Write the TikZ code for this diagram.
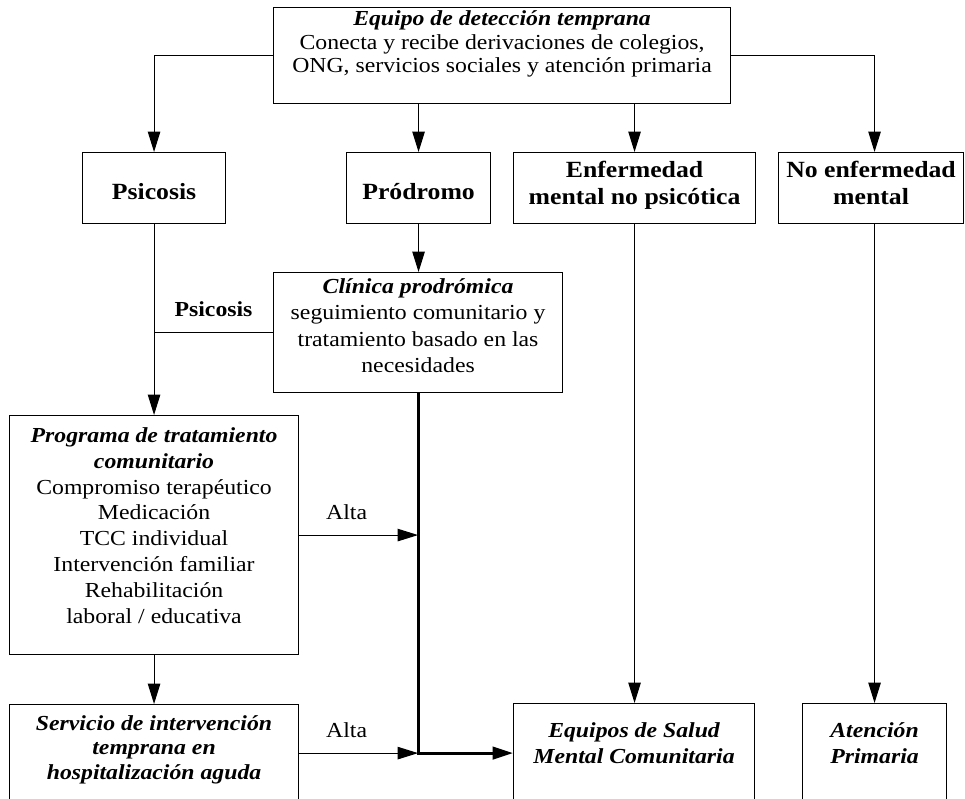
\documentclass[tikz,border=0pt]{standalone}
\usepackage{fontspec}
\setmainfont{Liberation Serif}[FakeStretch=1.11]
\usepackage{tikz}
\usetikzlibrary{arrows.meta}
\tikzstyle{box} = [rectangle, draw=black, line width=1.1pt, inner sep=0pt, anchor=north west]
\tikzstyle{arrow} = [line width=1.1pt, -{Triangle[length=20.5pt, width=12.5pt]}]
\tikzstyle{mainline} = [line width=3pt]
\tikzstyle{edgelabel} = [inner sep=0pt, above=15pt]
\newcommand{\bigbold}{\fontsize{23.2}{27.8}\selectfont\bfseries}

\begin{document}
\begin{tikzpicture}[x=1pt, y=-1pt, font=\fontsize{21.4}{26}\selectfont]
\useasboundingbox (0,0) rectangle (965,798);
\clip (0,0) rectangle (965,798);

%Fila 1==============================================
\node (top) [box] at (273,7) {
	\begin{minipage}[t][96pt][t]{457pt}
	\centering\fontsize{21.4}{23.5}\selectfont
		\rule{0pt}{18pt}\textbf{\textit{Equipo de detección temprana}}\\
		Conecta y recibe derivaciones de colegios,\\
		ONG, servicios sociales y atención primaria
	\end{minipage}
};

%Fila 2==============================================
\node (psic) [box] at (82,152) {
	\begin{minipage}[t][71pt][t]{143pt}
	\centering\bigbold
		\rule{0pt}{47pt}Psicosis
	\end{minipage}
};
\node (prod) [box] at (346,152) {
	\begin{minipage}[t][71pt][t]{144pt}
	\centering\bigbold
		\rule{0pt}{47pt}Pródromo
	\end{minipage}
};
\node (enf) [box] at (513,152) {
	\begin{minipage}[t][71pt][t]{242pt}
	\centering\bigbold
		\rule{0pt}{24.5pt}Enfermedad\\
		mental no psicótica
	\end{minipage}
};
\node (noenf) [box] at (778,152) {
	\begin{minipage}[t][71pt][t]{185pt}
	\centering\bigbold
		\rule{0pt}{24.5pt}No enfermedad\\
		mental
	\end{minipage}
};

%Clinica============================================
\node (clin) [box] at (273,272) {
	\begin{minipage}[t][120pt][t]{289pt}
	\centering\fontsize{21.4}{26.4}\selectfont
		\rule{0pt}{20.7pt}\textbf{\textit{Clínica prodrómica}}\\
		seguimiento comunitario y\\
		tratamiento basado en las\\
		necesidades
	\end{minipage}
};

%Programa===========================================
\node (prog) [box] at (9,415) {
	\begin{minipage}[t][239pt][t]{289pt}
	\centering\fontsize{21.4}{25.9}\selectfont
		\rule{0pt}{26.7pt}\textbf{\textit{Programa de tratamiento}}\\
		\textbf{\textit{comunitario}}\\
		Compromiso terapéutico\\
		Medicación\\
		TCC individual\\
		Intervención familiar\\
		Rehabilitación\\
		laboral / educativa
	\end{minipage}
};

%Fila inferior======================================
\node (serv) [box] at (9,704) {
	\begin{minipage}[t][130pt][t]{289pt}
	\centering\fontsize{21.4}{24.3}\selectfont\bfseries\itshape
		\rule{0pt}{26pt}Servicio de intervención\\
		temprana en\\
		hospitalización aguda
	\end{minipage}
};
\node (equipos) [box] at (513,703) {
	\begin{minipage}[t][130pt][t]{241pt}
	\centering\fontsize{21.4}{25.7}\selectfont\bfseries\itshape
		\rule{0pt}{34pt}Equipos de Salud\\
		Mental Comunitaria
	\end{minipage}
};
\node (atprim) [box] at (802,703) {
	\begin{minipage}[t][130pt][t]{144pt}
	\centering\fontsize{21.4}{25.7}\selectfont\bfseries\itshape
		\rule{0pt}{34pt}Atención\\
		Primaria
	\end{minipage}
};

%==============================================
\path (clin.south) ++(0,360) coordinate (junc);
\draw [arrow] (top.west) -| (psic.north);
\draw [arrow] (top.east) -| (atprim.north |- noenf.north);
\draw [arrow] (top.south -| prod.north) -- (prod.north);
\draw [arrow] (top.south -| enf.north) -- (enf.north);
\draw [line width=1.1pt] (psic.south) -- (psic.south |- clin.west);
\draw [arrow] (clin.west) -| (prog.north) node[edgelabel, pos=0.25] {\textbf{Psicosis}};
\draw [arrow] (prod.south) -- (prod.south |- clin.north);
\draw [arrow] (prog.south) -- (serv.north);
\draw [arrow] (prog.east) -- (prog.east -| junc) node[edgelabel, pos=0.4] {Alta};
\draw [arrow] (serv.east |- junc) -- (junc) node[edgelabel, pos=0.4] {Alta};
\draw [arrow, mainline] (clin.south) -- (junc) -- (junc -| equipos.west);
\draw [arrow] (enf.south) -- (enf.south |- equipos.north);
\draw [arrow] (atprim.north |- noenf.south) -- (atprim.north);
\end{tikzpicture}
\end{document}
